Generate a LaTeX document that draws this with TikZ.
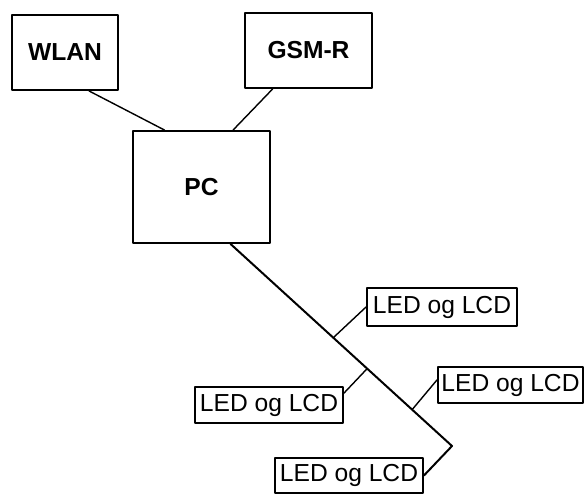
\documentclass[tikz,border=0pt]{standalone}
\usepackage{fontspec}
\setmainfont{Liberation Sans}
\usetikzlibrary{calc,positioning}

\begin{document}
\begin{tikzpicture}[
  x=0.03cm,
  y=-0.03cm,
  line cap=round,
  line join=round,
  unitbox/.style={draw=black,line width=1.6pt,inner sep=0pt,
    font=\fontsize{21}{25}\selectfont\bfseries},
  ledbox/.style={draw=black,line width=1.6pt,inner sep=0pt,
    font=\fontsize{21}{25}\selectfont},
  link/.style={black,line width=1.2pt},
  busline/.style={black,line width=1.7pt}
]
\path[use as bounding box] (0,0) rectangle (588,494);

\node[unitbox,minimum width=3.18cm,minimum height=2.25cm] (wlan) at (65,52.5) {WLAN};
\node[unitbox,minimum width=3.81cm,minimum height=2.25cm] (gsm) at (308.5,50.5) {GSM-R};
\node[unitbox,minimum width=4.11cm,minimum height=3.36cm] (pc) at (201.5,187) {PC};

\node[ledbox,minimum width=4.50cm,minimum height=1.14cm] (ledA) at (442,307) {LED og LCD};
\node[ledbox,minimum width=4.44cm,minimum height=1.08cm] (ledB) at (269,405) {LED og LCD};
\node[ledbox,minimum width=4.35cm,minimum height=1.08cm] (ledC) at (510.5,385) {LED og LCD};
\node[ledbox,minimum width=4.44cm,minimum height=1.05cm] (ledD) at (349,475.5) {LED og LCD};

\draw[link] (wlan.-58) -- (pc.123);
\draw[link] (gsm.-133) -- (pc.61);

\coordinate (bend) at (452,446);
\draw[busline] (pc.-63) -- (bend) -- (ledD.east);

\coordinate (tapA) at ($(pc.-63)!0.464!(bend)$);
\coordinate (tapB) at ($(pc.-63)!0.617!(bend)$);
\coordinate (tapC) at ($(pc.-63)!0.82!(bend)$);
\draw[link] (tapA) -- (ledA.west);
\draw[link] (tapB) -- (ledB.9);
\draw[link] (tapC) -- (ledC.176);
\end{tikzpicture}
\end{document}
